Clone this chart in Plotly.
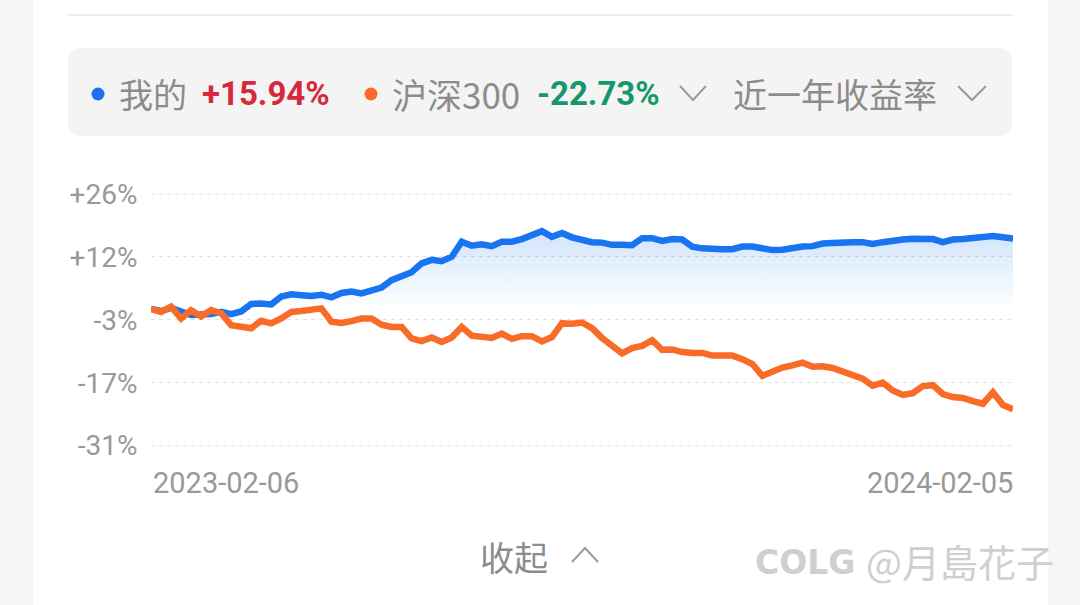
import pandas as pd
import plotly.graph_objects as go

# ---------------- data ----------------
start_date = "2023-02-06"
end_date = "2024-02-05"

mine_pct = [0.0, -0.5, 0.2, -0.6, -1.4, -1.3, -1.2, -0.7, -1.2, -0.6,
            1.1, 1.2, 1.0, 2.8, 3.3, 3.1, 2.9, 3.2, 2.6, 3.6,
            3.9, 3.5, 4.3, 4.8, 6.5, 7.5, 8.3, 10.3, 11.1, 10.8,
            11.8, 15.2, 14.3, 14.6, 14.2, 15.2, 15.2, 15.8, 16.9, 17.6,
            16.3, 17.2, 16.2, 15.7, 15.1, 15.0, 14.5, 14.5, 14.4, 16.0,
            16.0, 15.4, 15.8, 15.7, 14.1, 13.7, 13.5, 13.5, 13.5, 14.1,
            14.1, 13.8, 13.3, 13.4, 13.9, 14.1, 14.2, 14.8, 14.9, 15.1,
            15.1, 15.1, 14.7, 15.1, 15.5, 15.7, 15.9, 15.9, 15.8, 15.1,
            15.7, 15.8, 16.0, 16.4, 16.5, 16.2, 15.94]

hs300_pct = [0.0, -0.7, 0.5, -2.2, -0.3, -1.7, -0.3, -1.0, -3.7, -4.2,
             -4.4, -2.7, -3.3, -2.2, -0.7, -0.5, -0.3, 0.1, -2.9, -3.2,
             -2.8, -2.2, -2.2, -3.6, -4.1, -4.1, -6.7, -7.3, -6.5, -7.5,
             -6.5, -4.1, -6.1, -6.5, -6.6, -5.6, -6.8, -6.2, -6.2, -7.4,
             -6.4, -3.3, -3.4, -3.1, -4.4, -6.6, -8.2, -10.1, -8.9, -8.4,
             -7.1, -9.3, -9.2, -9.8, -10.0, -10.0, -10.6, -10.6, -10.6, -11.4,
             -12.5, -15.2, -14.1, -13.3, -12.8, -12.2, -13.1, -13.0, -13.4, -14.2,
             -15.1, -15.8, -17.4, -16.7, -18.5, -19.5, -19.1, -17.5, -17.3, -19.3,
             -20.0, -20.2, -20.9, -21.5, -18.9, -21.8, -22.73]

ytick_vals = [26, 11.75, -2.5, -16.75, -31]
ytick_text = ["+26%", "+12%", "-3%", "-17%", "-31%"]

series_names = ["我的", "沪深300"]
series_returns = ["+15.94%", "-22.73%"]
period_label = "近一年收益率"

dates = pd.date_range(start_date, end_date, periods=len(mine_pct))

# ---------------- styling ----------------
W, H = 1080, 605
L, R, T, B = 151, 67, 170, 145
BLUE = "#1874f0"
ORANGE = "#f86c28"
GRAY_TXT = "#8c8c8c"
CJK = "Noto Sans CJK SC"


def px(x):
    return (x - L) / (W - L - R)


def py(y):
    return (H - B - y) / (H - T - B)


fig = go.Figure()
fig.add_trace(go.Scatter(
    x=dates, y=mine_pct, mode="lines", name=series_names[0],
    line=dict(color=BLUE, width=6.5),
    fill="tozeroy",
    fillgradient=dict(type="vertical",
                      colorscale=[[0, "rgba(24,116,240,0.0)"], [1, "rgba(24,116,240,0.20)"]],
                      start=0, stop=max(mine_pct)),
    hoverinfo="skip",
))
fig.add_trace(go.Scatter(
    x=dates, y=hs300_pct, mode="lines", name=series_names[1],
    line=dict(color=ORANGE, width=6.5),
    hoverinfo="skip",
))

shapes = []
# white card
shapes.append(dict(type="rect", xref="paper", yref="paper",
                   x0=px(33), x1=px(1048), y0=py(605), y1=py(0),
                   fillcolor="white", line=dict(width=0), layer="below"))
# thin top divider
shapes.append(dict(type="line", xref="paper", yref="paper",
                   x0=px(68), x1=px(1013), y0=py(15), y1=py(15),
                   line=dict(color="#ededed", width=2), layer="below"))


def rounded_rect(x0, y0, x1, y1, r):
    X = lambda v: px(v)
    Y = lambda v: py(v)
    return (f"M {X(x0 + r)} {Y(y0)} L {X(x1 - r)} {Y(y0)} Q {X(x1)} {Y(y0)} {X(x1)} {Y(y0 + r)} "
            f"L {X(x1)} {Y(y1 - r)} Q {X(x1)} {Y(y1)} {X(x1 - r)} {Y(y1)} "
            f"L {X(x0 + r)} {Y(y1)} Q {X(x0)} {Y(y1)} {X(x0)} {Y(y1 - r)} "
            f"L {X(x0)} {Y(y0 + r)} Q {X(x0)} {Y(y0)} {X(x0 + r)} {Y(y0)} Z")


shapes.append(dict(type="path", xref="paper", yref="paper",
                   path=rounded_rect(68, 48, 1012, 136, 14),
                   fillcolor="#f4f4f4", line=dict(width=0), layer="below"))
# legend dots
for cx, col in [(98, BLUE), (371, ORANGE)]:
    shapes.append(dict(type="circle", xref="paper", yref="paper",
                       x0=px(cx - 6.5), x1=px(cx + 6.5), y0=py(94 + 6.5), y1=py(94 - 6.5),
                       fillcolor=col, line=dict(width=0)))


def chevron(xa, xb, ytop, ybot, up=False):
    xm = (xa + xb) / 2
    if up:
        p = f"M {px(xa)} {py(ybot)} L {px(xm)} {py(ytop)} L {px(xb)} {py(ybot)}"
    else:
        p = f"M {px(xa)} {py(ytop)} L {px(xm)} {py(ybot)} L {px(xb)} {py(ytop)}"
    return dict(type="path", xref="paper", yref="paper", path=p,
                line=dict(color="#9a9a9a", width=2))


shapes.append(chevron(680, 706, 86, 100))
shapes.append(chevron(958, 986, 86, 100))
shapes.append(chevron(572, 598, 548, 562, up=True))

ann = []


def text(x, y, s, size, color, family=CJK, anchor="left"):
    ann.append(dict(x=px(x), y=py(y), xref="paper", yref="paper", text=s,
                    showarrow=False, xanchor=anchor, yanchor="middle",
                    font=dict(size=size, color=color, family=family)))


text(117, 94, series_names[0], 34, GRAY_TXT)
text(200, 94, "<b>" + series_returns[0] + "</b>", 33, "#d62a3c", family="Roboto")
text(390, 94, series_names[1], 35, GRAY_TXT)
text(535, 94, "<b>" + series_returns[1] + "</b>", 33, "#14986b", family="Roboto")
text(731, 94, period_label, 34, GRAY_TXT)
# x-axis end labels
text(151, 483, start_date, 29, "#999999", family="Roboto")
text(1015, 483, end_date, 29, "#999999", family="Roboto", anchor="right")
# bottom
text(478, 556, "收起", 34, GRAY_TXT)
text(753, 562, "<b>COLG</b>", 33, "#cfcfcf", family="DejaVu Sans")
text(864, 560, "@月島花子", 38, "#cfcfcf", family="Noto Sans CJK JP")

fig.update_layout(
    width=W, height=H, autosize=False,
    margin=dict(l=L, r=R, t=T, b=B, pad=0),
    paper_bgcolor="#f5f5f5", plot_bgcolor="rgba(0,0,0,0)",
    showlegend=False, hovermode=False,
    shapes=shapes, annotations=ann,
    xaxis=dict(range=[dates[0], dates[-1]], showgrid=False, zeroline=False,
               showticklabels=False, showline=False, fixedrange=True),
    yaxis=dict(range=[-34.25, 31.45], tickvals=ytick_vals, ticktext=ytick_text,
               showgrid=True, gridcolor="#e2e2e2", gridwidth=1.2, griddash="4px,4px",
               zeroline=False, showline=False, ticks="outside", ticklen=7,
               tickcolor="rgba(0,0,0,0)",
               tickfont=dict(size=28, color="#999999", family="Roboto"), fixedrange=True),
)

fig.write_html("out.html", config={"displayModeBar": False},
               post_script="document.body.style.margin='0';document.body.style.padding='0';")
